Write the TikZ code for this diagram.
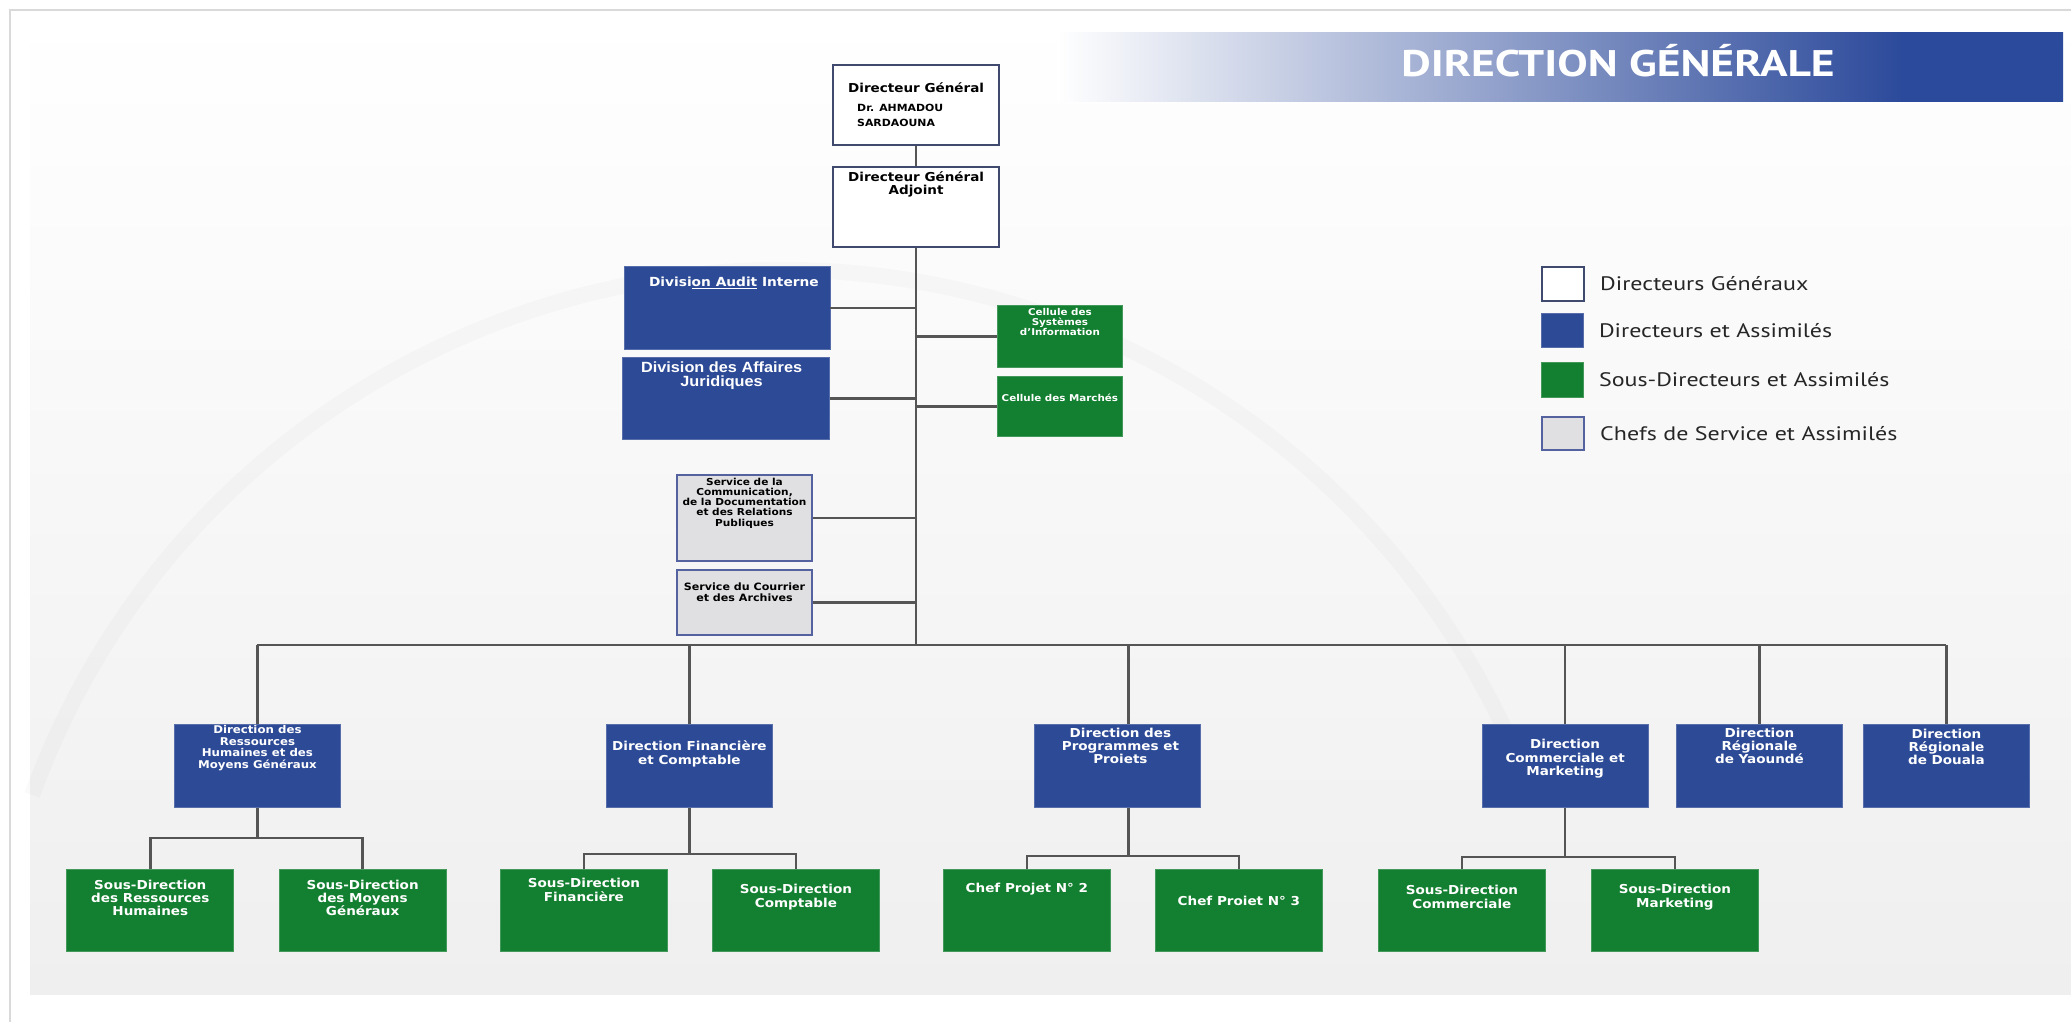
\documentclass[tikz,border=0pt]{standalone}
\usepackage{fontspec}
\setmainfont{DejaVu Sans}[FakeStretch=1.1]
\newfontfamily\arialfont{Liberation Sans}[FakeStretch=1.1]
\newfontfamily\legfont{PT Sans}[FakeStretch=1.23]
\usetikzlibrary{positioning}

\definecolor{dirblue}{RGB}{45,74,150}
\definecolor{sdgreen}{RGB}{19,127,48}
\definecolor{svcgray}{RGB}{224,224,226}
\definecolor{svcline}{RGB}{84,98,160}
\definecolor{dgline}{RGB}{64,74,110}
\definecolor{linegray}{RGB}{85,85,85}
\definecolor{hdrblue}{RGB}{44,74,155}
\definecolor{bggray}{RGB}{239,239,239}
\pgfdeclarehorizontalshading{hdrshade}{100bp}{color(0bp)=(white); color(25bp)=(white); color(67bp)=(hdrblue); color(100bp)=(hdrblue)}

\tikzset{
  conn/.style={draw=linegray, line width=2.6pt},
  boxbase/.style={inner sep=0pt, anchor=north west},
  gbox/.style={boxbase, draw=dgline, line width=2.2pt, fill=white, minimum width=166pt, minimum height=80pt},
  dbox/.style={boxbase, draw=dirblue!80!white, line width=0.8pt, fill=dirblue, minimum width=166pt, minimum height=83pt},
  sbox/.style={boxbase, draw=sdgreen!80!white, line width=0.8pt, fill=sdgreen, minimum width=167pt, minimum height=82pt},
  cbox/.style={boxbase, draw=svcline, line width=2pt, fill=svcgray, minimum width=135pt},
  wtxt/.style={text=white, align=center, inner sep=0pt, font=\bfseries\fontsize{12.3}{13.4}\selectfont},
  ktxt/.style={text=black, align=center, inner sep=0pt, font=\bfseries\fontsize{12.3}{13.4}\selectfont},
  legtxt/.style={anchor=west, inner sep=0pt, text=black!85, font=\legfont\fontsize{19.5}{22}\selectfont},
  hdrtxt/.style={text=white, inner sep=0pt, font=\legfont\bfseries\fontsize{37}{40}\selectfont},
}

\begin{document}
\begin{tikzpicture}[x=1pt,y=-1pt]
\useasboundingbox (0,0) rectangle (2071,1022);
% background
\fill[white] (0,0) rectangle (2071,1022);
\shade[top color=white, bottom color=bggray] (30,12) rectangle (2071,994);
\draw[black!15, line width=1.2pt] (10,1022) -- (10,10) -- (2071,10);
\draw[black, opacity=0.018, line width=16pt] (782,1068) ++(-160:798) arc[start angle=-160, end angle=-20, radius=798];

% header
\shade[shading=hdrshade] (1057,33) rectangle (2063,102);
\node[hdrtxt, anchor=base] (hdr) at (1618,77) {DIRECTION GÉNÉRALE};

% direction generale
\node[gbox] (dg) at (832,64) {};
\node[ktxt] (dgT) at ([yshift=-24pt]dg.north) {Directeur Général};
\node[ktxt, align=left, anchor=west, font=\bfseries\fontsize{9.9}{15}\selectfont] (dgN) at ([xshift=25pt,yshift=-51.5pt]dg.north west) {Dr. AHMADOU\\SARDAOUNA};
\node[gbox] (dga) at (832,166) {};
\node[ktxt, font=\bfseries\fontsize{12.3}{13}\selectfont] (dgaT) at ([yshift=-18.5pt]dga.north) {Directeur Général\\Adjoint};

% rattaches
\node[dbox, minimum width=206pt] (dai) at (623.5,266) {};
\node[wtxt, font=\bfseries\fontsize{12.5}{13.4}\selectfont] (daiT) at ([xshift=7pt,yshift=-17pt]dai.north) {Divisi\underline{on Audit} Interne};
\node[dbox, minimum width=207pt, minimum height=82pt] (daj) at (621.7,357) {};
\node[wtxt, font=\arialfont\bfseries\fontsize{14.8}{14.3}\selectfont] (dajT) at ([xshift=-4pt,yshift=-19pt]daj.north) {Division des Affaires\\Juridiques};
\node[sbox, minimum width=125pt, minimum height=62pt] (csi) at (997,305) {};
\node[wtxt, font=\bfseries\fontsize{9.4}{10}\selectfont] (csiT) at ([yshift=-16.5pt]csi.north) {Cellule des\\Systèmes\\d'Information};
\node[sbox, minimum width=125pt, minimum height=60pt] (cma) at (997,376) {};
\node[wtxt, font=\bfseries\fontsize{9.4}{10}\selectfont] (cmaT) at ([yshift=-21.7pt]cma.north) {Cellule des Marchés};
\node[cbox, minimum height=86pt] (scd) at (676,474) {};
\node[ktxt, font=\bfseries\fontsize{9.6}{10.2}\selectfont] (scdT) at ([yshift=-29pt]scd.north) {Service de la\\Communication,\\de la Documentation\\et des Relations\\Publiques};
\node[cbox, minimum height=65pt] (sca) at (676,569) {};
\node[ktxt, font=\bfseries\fontsize{10.1}{11}\selectfont] (scaT) at ([yshift=-23.5pt]sca.north) {Service du Courrier\\et des Archives};

% directions
\node[dbox] (drh) at (174,724) {};
\node[wtxt, font=\bfseries\fontsize{10.7}{11.5}\selectfont] (drhT) at ([yshift=-24pt]drh.north) {Direction des\\Ressources\\Humaines et des\\Moyens Généraux};
\node[dbox] (dfc) at (606,724) {};
\node[wtxt] (dfcT) at ([yshift=-30pt]dfc.north) {Direction Financière\\et Comptable};
\node[dbox] (dpp) at (1034,724) {};
\node[wtxt] (dppT) at ([xshift=3pt,yshift=-22pt]dpp.north) {Direction des\\Programmes et\\Proiets};
\node[dbox] (dcm) at (1481.7,724) {};
\node[wtxt] (dcmT) at ([yshift=-35pt]dcm.north) {Direction\\Commerciale et\\Marketing};
\node[dbox] (dry) at (1676,724) {};
\node[wtxt] (dryT) at ([yshift=-22pt]dry.north) {Direction\\Régionale\\de Yaoundé};
\node[dbox] (drd) at (1863,724) {};
\node[wtxt] (drdT) at ([yshift=-23pt]drd.north) {Direction\\Régionale\\de Douala};

% sous-directions
\node[sbox] (sdrh) at (66.4,869) {};
\node[wtxt] (sdrhT) at ([yshift=-29pt]sdrh.north) {Sous-Direction\\des Ressources\\Humaines};
\node[sbox] (sdmg) at (278.7,869) {};
\node[wtxt] (sdmgT) at ([yshift=-29pt]sdmg.north) {Sous-Direction\\des Moyens\\Généraux};
\node[sbox] (sdfi) at (500,869) {};
\node[wtxt] (sdfiT) at ([yshift=-21pt]sdfi.north) {Sous-Direction\\Financière};
\node[sbox] (sdco) at (712,869) {};
\node[wtxt] (sdcoT) at ([yshift=-28pt]sdco.north) {Sous-Direction\\Comptable};
\node[sbox] (cp2) at (943,869) {};
\node[wtxt] (cp2T) at ([yshift=-20pt]cp2.north) {Chef Projet N° 2};
\node[sbox] (cp3) at (1155,869) {};
\node[wtxt] (cp3T) at ([yshift=-32pt]cp3.north) {Chef Proiet N° 3};
\node[sbox] (sdcm) at (1378,869) {};
\node[wtxt] (sdcmT) at ([yshift=-28pt]sdcm.north) {Sous-Direction\\Commerciale};
\node[sbox] (sdmk) at (1591,869) {};
\node[wtxt] (sdmkT) at ([yshift=-28pt]sdmk.north) {Sous-Direction\\Marketing};

% legend
\node[gbox, minimum width=42pt, minimum height=34pt, line width=2pt] (legW) at (1541,266) {};
\node[dbox, minimum width=42pt, minimum height=34pt] (legB) at (1541,313) {};
\node[sbox, minimum width=42pt, minimum height=35pt] (legG) at (1541,362) {};
\node[cbox, minimum width=42pt, minimum height=33pt] (legS) at (1541,416) {};
\node[legtxt, right=15pt of legW] (legWT) {Directeurs Généraux};
\node[legtxt, right=15pt of legB] (legBT) {Directeurs et Assimilés};
\node[legtxt, right=15pt of legG] (legGT) {Sous-Directeurs et Assimilés};
\node[legtxt, right=15pt of legS] (legST) {Chefs de Service et Assimilés};

% liaisons
\coordinate (busy) at (0,645);
\draw[conn] (dg.south) -- (dga.north);
\draw[conn] (dga.south) -- (dga.south |- busy);
\foreach \n in {dai,daj,scd,sca}
  \draw[conn] (\n.east) -- (\n.east -| dga.south);
\foreach \n in {csi,cma}
  \draw[conn] (\n.west) -- (\n.west -| dga.south);
\draw[conn] (drh.north |- busy) -- (drd.north |- busy);
\foreach \n in {drh,dfc,dcm,dry,drd}
  \draw[conn] (\n.north) -- (\n.north |- busy);
\coordinate (dppN) at ([xshift=11pt]dpp.north);
\draw[conn] (dppN) -- (dppN |- busy);
\foreach \d/\a/\b/\h in {drh/sdrh/sdmg/30,dfc/sdfi/sdco/46,dcm/sdcm/sdmk/49}
{
  \draw[conn] (\d.south) -- ++(0,\h) coordinate (\d-tap);
  \draw[conn] (\a.north) |- (\d-tap) -| (\b.north);
}
\draw[conn] ([xshift=11pt]dpp.south) -- ++(0,48) coordinate (dpp-tap);
\draw[conn] (cp2.north) |- (dpp-tap) -| (cp3.north);
\end{tikzpicture}
\end{document}
